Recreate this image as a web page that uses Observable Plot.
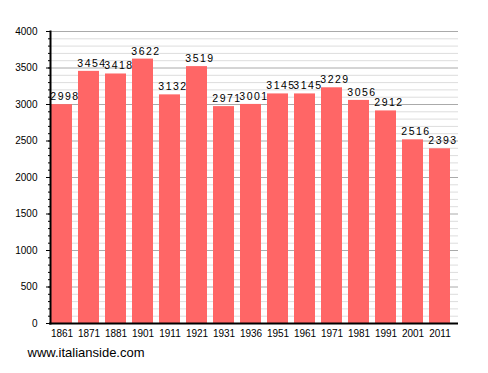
<!DOCTYPE html>
<html><head><meta charset="utf-8">
<script src="https://cdn.jsdelivr.net/npm/d3@7"></script>
<script src="https://cdn.jsdelivr.net/npm/@observablehq/plot@0.6"></script>
<style>body{margin:0;background:#fff} g.vals text{letter-spacing:1.5px}</style>
</head><body><div id="chart"></div>
<script>
const years = ["1861","1871","1881","1901","1911","1921","1931","1936","1951","1961","1971","1981","1991","2001","2011"];
const population = [2998,3454,3418,3622,3132,3519,2971,3001,3145,3145,3229,3056,2912,2516,2393];
const majorTicks = [0,500,1000,1500,2000,2500,3000,3500,4000];
const minorTicks = d3.range(0,4001,100);
const footer = "www.italianside.com";

const data = years.map((y,i)=>({year:y, value:population[i]}));
const fnt = "Liberation Sans, Arial, sans-serif";

const chart = Plot.plot({
  width: 488, height: 373,
  marginLeft: 51, marginRight: 30, marginTop: 31, marginBottom: 50,
  style: {fontFamily: fnt, fontSize: "10px", color: "#000", background: "#fff"},
  x: {domain: years, paddingInner: 0.238, paddingOuter: 0, align: 0, label: null},
  y: {domain: [0,4000], label: null},
  marks: [
    Plot.ruleY(minorTicks.filter(d=>d%500!==0), {stroke:"#dddddd", strokeWidth:1}),
    Plot.ruleY(majorTicks.filter(d=>d>0), {stroke:"#aaaaaa", strokeWidth:1}),
    Plot.barY(data, {x:"year", y:"value", fill:"#ff6666"}),
    Plot.text(data, {x:"year", y:"value", text:d=>String(d.value), lineAnchor:"bottom", dy:-4.5, dx:3, fontSize:10.5, fill:"#000", className:"vals"}),
    Plot.axisY({ticks: minorTicks, tickSize: 3, tickFormat: ()=>"", strokeWidth:1}),
    Plot.axisY({ticks: majorTicks, tickSize: 5, tickPadding: 9, fontSize: 10, tickFormat: d=>String(d)}),
    Plot.axisX({tickSize: 0, tickPadding: 6, fontSize: 10}),
    Plot.frame({anchor:"left", stroke:"#000", strokeWidth:2, dx:-1}),
    Plot.ruleY([0], {stroke:"#000", strokeWidth:2, insetLeft:-2}),
    Plot.text([footer], {frameAnchor:"bottom-left", text:d=>d, textAnchor:"start", dx:-24, dy:33, fontSize:13, fill:"#000"})
  ]
});
document.getElementById("chart").append(chart);
</script></body></html>
